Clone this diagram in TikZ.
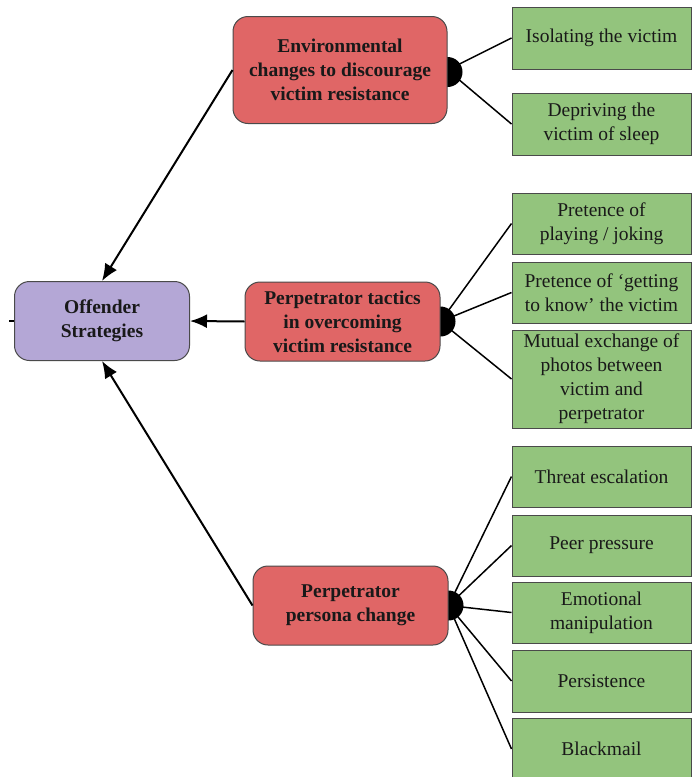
\documentclass[tikz,border=0pt]{standalone}
\usepackage{fontspec}
\setmainfont{Liberation Serif}
\usetikzlibrary{arrows.meta,backgrounds}
\definecolor{tacticred}{HTML}{E06666}
\definecolor{offenderpurple}{HTML}{B4A7D6}
\definecolor{itemgreen}{HTML}{93C47D}
\definecolor{edgegray}{HTML}{4A4A4A}

\begin{document}
\begin{tikzpicture}[x=1pt,y=-1pt,
        boxtext/.style={font=\fontsize{19.5}{24}\selectfont, text=black!90, align=center, inner sep=0pt},
        mainbox/.style={boxtext, font=\fontsize{19.5}{24}\selectfont\bfseries, draw=edgegray, line width=1pt, rounded corners=15pt},
        itembox/.style={boxtext, draw=edgegray, line width=1pt, fill=itemgreen, minimum width=179pt, minimum height=62pt},
        joint/.style={fill=black},
        branch/.style={line width=1.5pt},
        toward/.style={line width=2pt, -{Latex[length=17pt,width=14pt]}}]
    \useasboundingbox (0,0) rectangle (699,777);

    % main nodes
    \node[mainbox, fill=offenderpurple, minimum width=175pt, minimum height=79pt] (offender) at (102,321) {Offender\\Strategies};
    \node[mainbox, fill=tacticred, minimum width=214pt, minimum height=107pt] (env) at (340,70) {Environmental\\changes to discourage\\victim resistance};
    \node[mainbox, fill=tacticred, minimum width=195pt, minimum height=79pt] (tactics) at (342.5,321.5) {Perpetrator tactics\\in overcoming\\victim resistance};
    \node[mainbox, fill=tacticred, minimum width=195pt, minimum height=79pt] (persona) at (350.5,605.5) {Perpetrator\\persona change};

    % green items
    \node[itembox] (isolate) at (601.5,38) {Isolating the victim};
    \node[itembox] (sleep) at (601.5,124) {Depriving the\\victim of sleep};
    \node[itembox, minimum height=61pt] (joking) at (601.5,223.5) {Pretence of\\playing / joking};
    \node[itembox, minimum height=61pt] (knowing) at (601.5,292.5) {Pretence of ‘getting\\to know’ the victim};
    \node[itembox, minimum height=98pt] (photos) at (601.5,379) {Mutual exchange of\\photos between\\victim and\\perpetrator};
    \node[itembox, minimum height=61pt] (threat) at (601.5,476.5) {Threat escalation};
    \node[itembox, minimum height=61pt] (peer) at (601.5,545.5) {Peer pressure};
    \node[itembox, minimum height=61pt] (emotion) at (601.5,612.5) {Emotional\\manipulation};
    \node[itembox] (persist) at (601.5,681) {Persistence};
    \node[itembox] (blackmail) at (601.5,749) {Blackmail};

    \coordinate (stub) at (9,321);

    % joints and branches behind the boxes
    \begin{scope}[on background layer]
        \fill[joint] (env.east) ++(0,2) circle (15pt);
        \fill[joint] (tactics.east) circle (15pt);
        \fill[joint] (persona.east) circle (15pt);
        \foreach \item in {isolate,sleep}
            \draw[branch] (env.east) -- (\item.west);
        \foreach \item in {joking,knowing,photos}
            \draw[branch] (tactics.east) -- (\item.west);
        \foreach \item in {threat,peer,emotion,persist,blackmail}
            \draw[branch] (persona.east) -- (\item.west);
    \end{scope}

    % arrows to the strategies
    \draw[toward] (env.west) -- (offender.north);
    \draw[toward] (tactics.west) -- (offender.east);
    \draw[toward] (persona.west) -- (offender.south);
    \draw[line width=1.5pt] (offender.west) -- (stub);
\end{tikzpicture}
\end{document}
